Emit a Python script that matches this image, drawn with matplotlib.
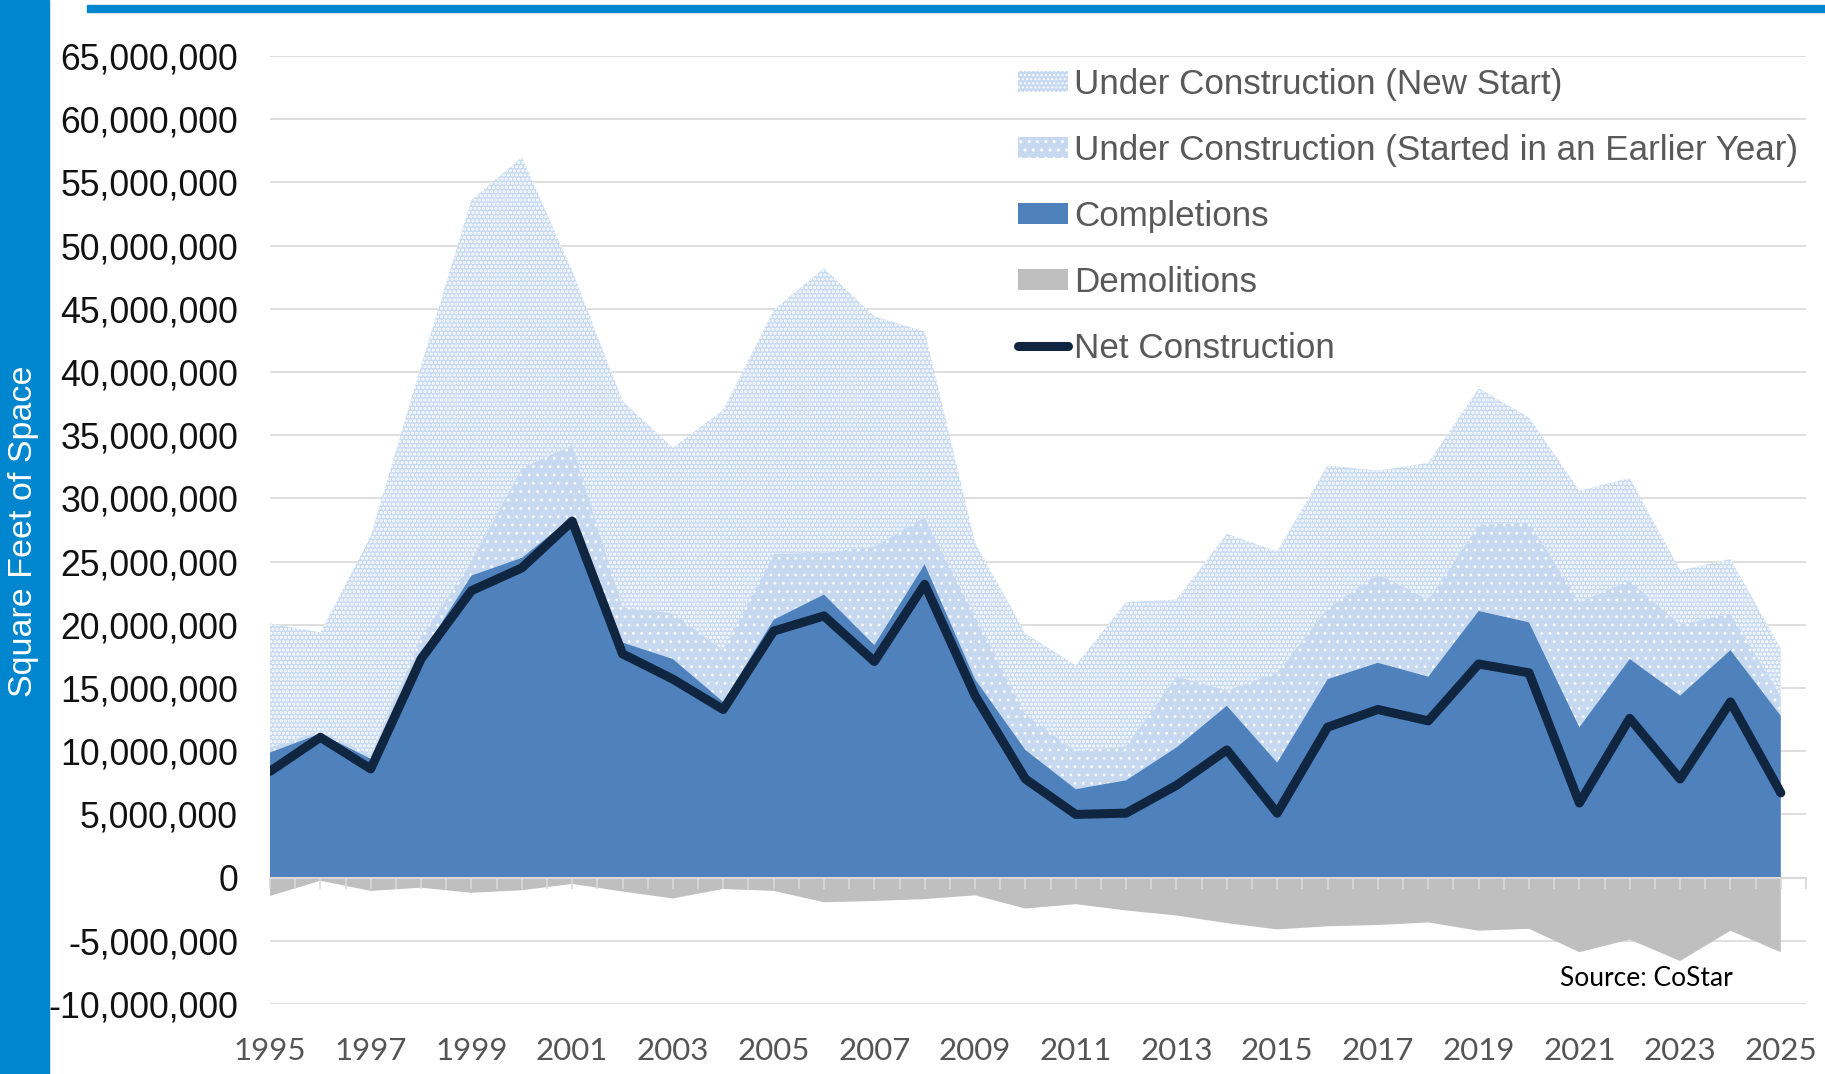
import numpy as np
import matplotlib
matplotlib.use("Agg")
import matplotlib.pyplot as plt
from matplotlib.patches import Patch, Rectangle
from matplotlib.lines import Line2D
from matplotlib.ticker import FuncFormatter

# values in millions of square feet
years = list(range(1995, 2026))
completions = [9.9, 11.4, 9.4, 17.6, 23.9, 25.3, 28.5, 18.6, 17.3, 13.9,
               20.4, 22.4, 18.4, 24.8, 15.7, 10.1, 7.0, 7.7, 10.3, 13.6,
               9.1, 15.7, 17.0, 15.9, 21.1, 20.2, 11.9, 17.3, 14.4, 18.0, 12.8]
uc_earlier = [0.4, 0.2, 0.3, 1.4, 1.1, 7.1, 5.7, 2.8, 3.6, 4.1,
              5.2, 3.3, 7.8, 3.7, 5.0, 2.8, 3.0, 2.7, 5.6, 1.2,
              7.1, 5.6, 7.0, 6.1, 6.8, 7.9, 9.9, 6.2, 5.6, 2.9, 1.5]
uc_new = [9.8, 7.8, 17.3, 21.5, 28.6, 24.6, 13.8, 16.3, 13.1, 19.0,
          19.3, 22.5, 18.2, 14.7, 5.8, 6.4, 6.8, 11.4, 6.1, 12.4,
          9.6, 11.3, 8.2, 10.8, 10.8, 8.3, 8.8, 8.1, 4.3, 4.3, 3.8]
demolitions = [-1.45, -0.25, -1.05, -0.8, -1.2, -1.0, -0.5, -1.1, -1.65, -0.9,
               -1.05, -1.95, -1.85, -1.7, -1.4, -2.45, -2.1, -2.6, -3.0, -3.6,
               -4.1, -3.85, -3.75, -3.55, -4.2, -4.05, -5.9, -4.9, -6.6, -4.2, -5.9]
net = [8.4, 11.1, 8.6, 17.3, 22.7, 24.5, 28.2, 17.7, 15.7, 13.3,
       19.5, 20.7, 17.1, 23.2, 14.4, 7.8, 5.0, 5.1, 7.3, 10.1,
       5.1, 11.9, 13.3, 12.4, 16.9, 16.2, 5.9, 12.6, 7.8, 13.9, 6.7]

labels = ["Under Construction (New Start)",
          "Under Construction (Started in an Earlier Year)",
          "Completions", "Demolitions", "Net Construction"]

M = 1e6
x = np.array(years)
comp = np.array(completions) * M
lay2 = comp + np.array(uc_earlier) * M
lay3 = lay2 + np.array(uc_new) * M
demo = np.array(demolitions) * M
netv = np.array(net) * M

LIGHT = "#c6d9f0"
MID = "#4f81bd"
GREY = "#bfbfbf"
NAVY = "#10253f"
BAR = "#0086cf"

fig = plt.figure(figsize=(18.25, 10.74), dpi=100)
ax = fig.add_axes([270 / 1825, 1 - 1004 / 1074, (1806 - 270) / 1825, (1004 - 56) / 1074])

# checkered new starts, sparse dots for earlier starts
with plt.rc_context({"hatch.linewidth": 1.6}):
    ax.fill_between(x, lay2, lay3, facecolor=LIGHT, edgecolor="white", hatch="....", linewidth=0, zorder=2)
    h_new = Patch(facecolor=LIGHT, edgecolor="white", hatch="....", linewidth=0)
with plt.rc_context({"hatch.linewidth": 0.8}):
    ax.fill_between(x, comp, lay2, facecolor=LIGHT, edgecolor="white", hatch="..", linewidth=0, zorder=2)
    h_old = Patch(facecolor=LIGHT, edgecolor="white", hatch="..", linewidth=0)
ax.fill_between(x, 0, comp, facecolor=MID, linewidth=0, zorder=2)
ax.fill_between(x, 0, demo, facecolor=GREY, linewidth=0, zorder=2)
ax.plot(x, netv, color=NAVY, lw=6.5, solid_joinstyle="round", solid_capstyle="round", zorder=4)

ax.set_xlim(1995, 2025.5)
ax.set_ylim(-10 * M, 65 * M)
ax.set_yticks(np.arange(-10, 66, 5) * M)
ax.yaxis.set_major_formatter(FuncFormatter(lambda v, p: f"{v:,.0f}"))
ax.set_xticks(years[::2])
ax.set_axisbelow(True)
ax.grid(axis="y", color="#d9d9d9", lw=1.2)
for s in ax.spines.values():
    s.set_visible(False)
ax.tick_params(axis="y", length=0, pad=23, labelsize=25.7, labelcolor="#111111")
ax.tick_params(axis="x", length=0, pad=24, labelsize=22.5, labelcolor="#555555")
for t in ax.get_yticklabels():
    t.set_fontfamily("Liberation Sans")
for t in ax.get_xticklabels():
    t.set_fontfamily("Lato")

# category axis drawn at zero
sec = ax.secondary_xaxis(0, transform=ax.transData)
sec.set_zorder(5)
sec.set_xticks(np.arange(1995, 2025.6, 0.5))
sec.tick_params(axis="x", direction="out", length=8, width=1.2, color="#d9d9d9", labelbottom=False)
sec.spines["bottom"].set_color("#d9d9d9")
sec.spines["bottom"].set_linewidth(1.5)

handles = [
    h_new,
    h_old,
    Patch(facecolor=MID, linewidth=0),
    Patch(facecolor=GREY, linewidth=0),
    Line2D([0], [0], color=NAVY, lw=6.5, solid_capstyle="round"),
]
leg = fig.legend(handles, labels, loc="upper left", bbox_to_anchor=(1018 / 1825, 1 - 68 / 1074),
                 frameon=False, handlelength=1.43, handleheight=0.55,
                 handletextpad=0.17, labelspacing=0.94, borderpad=0, borderaxespad=0,
                 prop={"family": "Liberation Sans", "size": 25.2})
for t in leg.get_texts():
    t.set_color("#595959")

# frame decorations
fig.patches.append(Rectangle((0, 0), 49 / 1825, 1, transform=fig.transFigure, color=BAR, zorder=0))
fig.patches.append(Rectangle((87 / 1825, 1 - 12 / 1074), 1, 7 / 1074, transform=fig.transFigure, color=BAR, zorder=0))
fig.text(24 / 1825, 1 - 531 / 1074, "Square Feet of Space", rotation=90, color="white",
         fontsize=24.5, family="Liberation Sans", ha="center", va="center")
fig.text(1646 / 1825, 1 - 978 / 1074, "Source: CoStar", fontsize=19, family="Lato",
         color="black", ha="center", va="center")

fig.savefig("out.png", dpi=100)
